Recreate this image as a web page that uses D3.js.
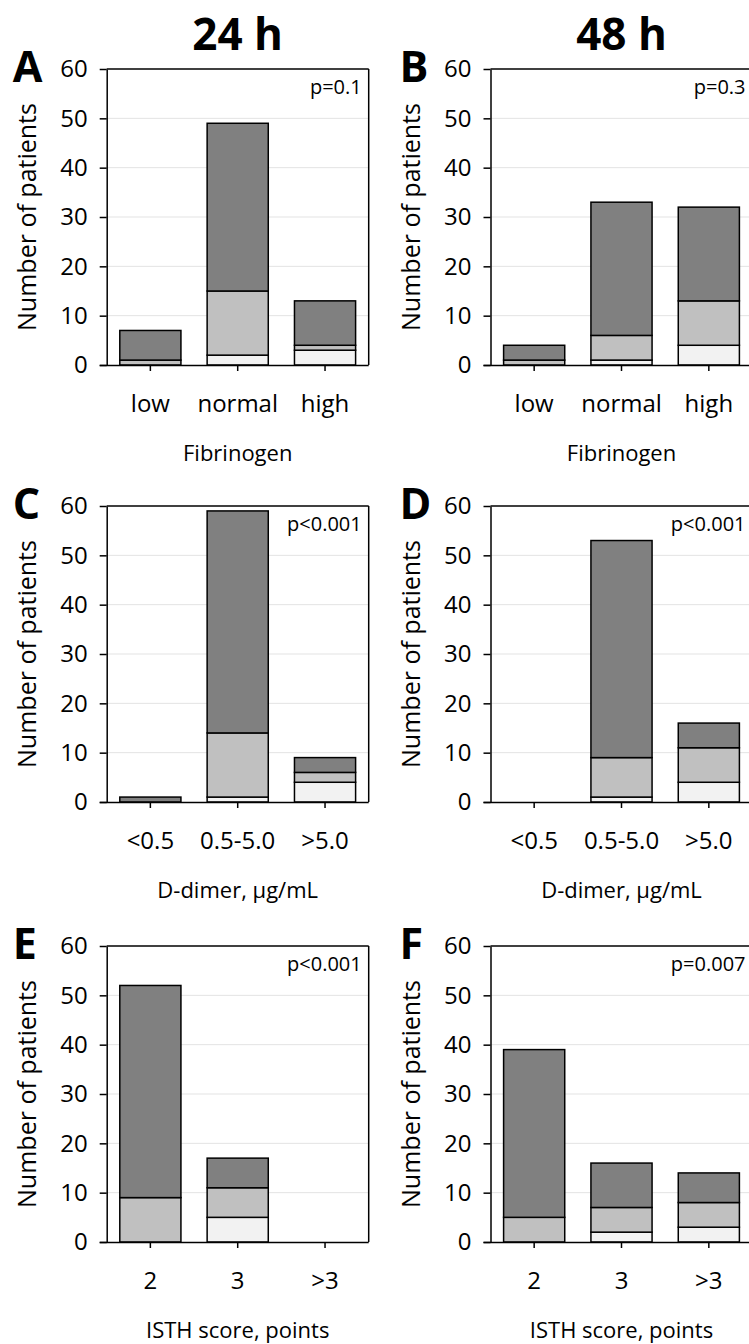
<!DOCTYPE html>
<html>
<head>
<meta charset="utf-8">
<script src="https://cdn.jsdelivr.net/npm/d3@7"></script>
<style>
  html, body { margin: 0; padding: 0; background: #fff; }
  svg { display: block; font-family: "Open Sans", "DejaVu Sans", sans-serif; }
</style>
</head>
<body>
<script>
// ---------- data ----------
const columnTitles = ["24 h", "48 h"];
const panelLetters = ["A", "B", "C", "D", "E", "F"];
const pValues = ["p=0.1", "p=0.3", "p<0.001", "p<0.001", "p<0.001", "p=0.007"];
const axisTitles = ["Fibrinogen", "D-dimer, \u03BCg/mL", "ISTH score, points"];
const yLabel = "Number of patients";
const yTicks = [0, 10, 20, 30, 40, 50, 60];

const fibrinogenCats = ["low", "normal", "high"];
const ddimerCats = ["<0.5", "0.5-5.0", ">5.0"];
const isthCats = ["2", "3", ">3"];

// stacked segments: light (bottom), medium (middle), dark (top)
const fib24Light  = [0, 2, 3];
const fib24Medium = [1, 13, 1];
const fib24Dark   = [6, 34, 9];

const fib48Light  = [0, 1, 4];
const fib48Medium = [1, 5, 9];
const fib48Dark   = [3, 27, 19];

const dd24Light  = [0, 1, 4];
const dd24Medium = [0, 13, 2];
const dd24Dark   = [1, 45, 3];

const dd48Light  = [0, 1, 4];
const dd48Medium = [0, 8, 7];
const dd48Dark   = [0, 44, 5];

const isth24Light  = [0, 5, 0];
const isth24Medium = [9, 6, 0];
const isth24Dark   = [43, 6, 0];

const isth48Light  = [0, 2, 3];
const isth48Medium = [5, 5, 5];
const isth48Dark   = [34, 9, 6];

const segmentKeys = ["light", "medium", "dark"];
const segmentColors = { light: "#f2f2f2", medium: "#c0c0c0", dark: "#808080" };

const panels = [
  { cats: fibrinogenCats, light: fib24Light,  medium: fib24Medium,  dark: fib24Dark },
  { cats: fibrinogenCats, light: fib48Light,  medium: fib48Medium,  dark: fib48Dark },
  { cats: ddimerCats,     light: dd24Light,   medium: dd24Medium,   dark: dd24Dark },
  { cats: ddimerCats,     light: dd48Light,   medium: dd48Medium,   dark: dd48Dark },
  { cats: isthCats,       light: isth24Light, medium: isth24Medium, dark: isth24Dark },
  { cats: isthCats,       light: isth48Light, medium: isth48Medium, dark: isth48Dark }
];

// ---------- layout ----------
const W = 749, H = 1344;
const colLeft = [106.7, 490.5];
const rowTop = [69, 506, 946];
const pw = 262, ph = 296;

const svg = d3.select("body").append("svg").attr("width", W).attr("height", H);

panels.forEach((p, i) => {
  const col = i % 2, row = Math.floor(i / 2);
  const g = svg.append("g").attr("transform", `translate(${colLeft[col]},${rowTop[row]})`);

  const x = d3.scaleBand().domain(p.cats).range([0, pw]).paddingInner(0.3).paddingOuter(0.15);
  const y = d3.scaleLinear().domain([0, 60]).range([ph, 0]);

  // gridlines
  g.append("g").selectAll("line").data(yTicks.filter(t => t > 0 && t < 60)).join("line")
    .attr("x1", 0).attr("x2", pw)
    .attr("y1", d => y(d)).attr("y2", d => y(d))
    .attr("stroke", "#e3e3e3").attr("stroke-width", 1);

  // stacked bars
  const rows = p.cats.map((c, k) => ({ cat: c, light: p.light[k], medium: p.medium[k], dark: p.dark[k] }));
  const series = d3.stack().keys(segmentKeys)(rows);
  g.append("g").selectAll("g").data(series).join("g")
    .attr("fill", d => segmentColors[d.key])
    .selectAll("rect").data(d => d.filter(s => s[1] - s[0] > 0)).join("rect")
      .attr("x", d => x(d.data.cat))
      .attr("width", x.bandwidth())
      .attr("y", d => y(d[1]))
      .attr("height", d => y(d[0]) - y(d[1]))
      .attr("stroke", "#000").attr("stroke-width", 1.5);

  // frame top/right
  g.append("line").attr("x1", 0).attr("x2", pw).attr("y1", 0).attr("y2", 0)
    .attr("stroke", "#000").attr("stroke-width", 1.5);
  g.append("line").attr("x1", pw).attr("x2", pw).attr("y1", 0).attr("y2", ph)
    .attr("stroke", "#000").attr("stroke-width", 1.5);

  // y axis
  const ya = g.append("g").call(d3.axisLeft(y).tickValues(yTicks).tickSize(7).tickPadding(12).tickSizeOuter(0));
  ya.select(".domain").attr("stroke", "#000").attr("stroke-width", 1.5);
  ya.selectAll(".tick line").attr("stroke", "#000").attr("stroke-width", 1.5);
  ya.selectAll(".tick text").attr("font-size", 24).attr("fill", "#000")
    .attr("font-family", "'Open Sans', sans-serif");

  // x axis
  const xa = g.append("g").attr("transform", `translate(0,${ph})`)
    .call(d3.axisBottom(x).tickSize(6).tickSizeOuter(0));
  xa.select(".domain").attr("stroke", "#000").attr("stroke-width", 1.5)
    .attr("d", `M-7,0.5H${pw}`);
  xa.selectAll(".tick line").attr("stroke", "#000").attr("stroke-width", 1.5);
  xa.selectAll(".tick text").attr("font-size", 24).attr("fill", "#000")
    .attr("font-family", "'Open Sans', sans-serif")
    .attr("y", 46.7).attr("dy", 0);

  // axis title
  g.append("text").attr("x", pw / 2).attr("y", ph + 96)
    .attr("text-anchor", "middle").attr("font-size", 22).text(axisTitles[row]);

  // y label
  g.append("text").attr("transform", `translate(-79,${ph / 2}) rotate(-90)`)
    .attr("text-anchor", "middle").attr("dy", "0.35em").attr("font-size", 25).text(yLabel);

  // p value
  g.append("text").attr("x", pw - 7).attr("y", 24.5).attr("text-anchor", "end")
    .attr("font-size", 20).text(pValues[i]);

  // panel letter
  g.append("text").attr("x", col === 0 ? -94 : -91).attr("y", 13)
    .attr("font-size", 43).attr("font-weight", "bold").text(panelLetters[i]);
});

// column titles
columnTitles.forEach((t, c) => {
  svg.append("text").attr("x", colLeft[c] + pw / 2).attr("y", 50)
    .attr("text-anchor", "middle").attr("font-size", 44).attr("font-weight", "bold").text(t);
});
</script>
</body>
</html>
